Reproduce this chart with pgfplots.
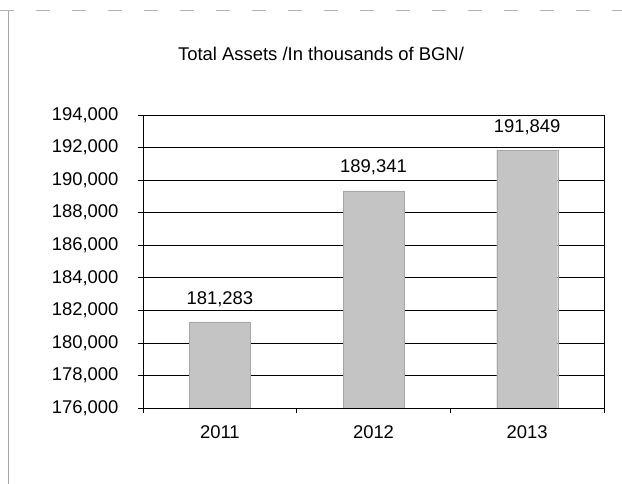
\documentclass[border=0pt]{standalone}
\usepackage{pgfplots}
\pgfplotsset{compat=1.18}
\usepackage{fontspec}
\setmainfont{Liberation Sans}
\begin{document}
\begin{tikzpicture}[x=1bp,y=1bp]
\useasboundingbox (0,0) rectangle (622,484);
\draw[gray!70, line width=0.6bp] (8,0) -- (8,474);
\draw[gray!60, line width=0.5bp, dash pattern=on 14bp off 22bp] (0,474) -- (622,474);
\node[font=\fontsize{18.5}{20}\selectfont] at (321,430) {Total Assets /In thousands of BGN/};
\begin{axis}[
  at={(143bp,76bp)}, anchor=south west,
  width=461bp, height=293bp, scale only axis,
  ymin=176000, ymax=194000,
  scaled y ticks=false,
  ytick={176000,178000,180000,182000,184000,186000,188000,190000,192000,194000},
  yticklabels={{176,000},{178,000},{180,000},{182,000},{184,000},{186,000},{188,000},{190,000},{192,000},{194,000}},
  xmin=-0.5, xmax=2.5,
  xtick={0,1,2}, xticklabels={2011,2012,2013},
  minor xtick={-0.5,0.5,1.5,2.5},
  tick pos=left,
  tick align=outside,
  major tick length=5bp, minor tick length=5bp,
  x tick style={draw=none},
  minor x tick style={draw=black, line width=0.6bp},
  y tick style={black, line width=0.6bp},
  ymajorgrids, grid style={black, line width=0.7bp},
  axis line style={black, line width=0.8bp},
  ticklabel style={font=\fontsize{18.5}{20}\selectfont},
  yticklabel style={xshift=-16bp},
  xticklabel style={yshift=-9bp},
  ybar, bar width=61bp,
  point meta=explicit symbolic,
  nodes near coords,
  nodes near coords style={font=\fontsize{18.5}{20}\selectfont, yshift=12bp},
]
\addplot[fill=black!23, draw=black!35, line width=0.3bp] coordinates {(0,181283) [{181,283}] (1,189341) [{189,341}] (2,191849) [{191,849}]};
\end{axis}
\end{tikzpicture}
\end{document}
